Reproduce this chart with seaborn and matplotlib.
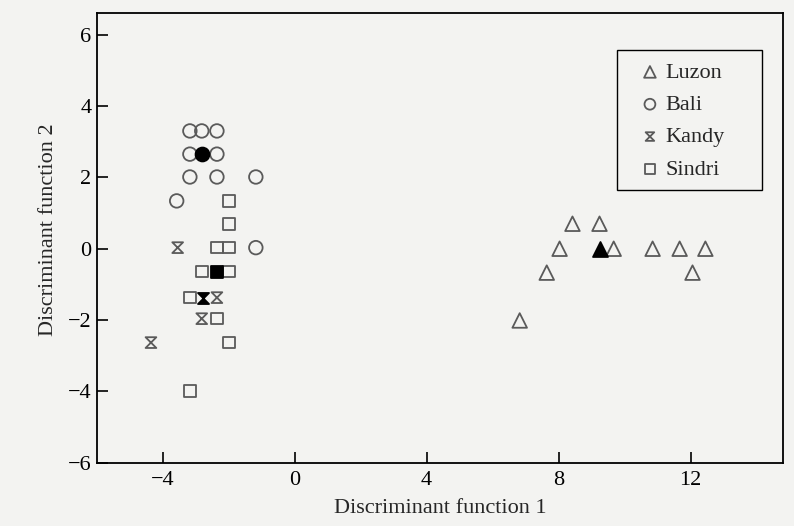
import numpy as np
import pandas as pd
import matplotlib
matplotlib.use("Agg")
import matplotlib.pyplot as plt
from matplotlib.path import Path
from matplotlib.patches import Rectangle
import seaborn as sns

# ---- data ----
groups = ["Luzon", "Bali", "Kandy", "Sindri"]

luzon_x = [6.82, 7.64, 8.03, 8.42, 9.24, 9.67, 10.85, 11.67, 12.06, 12.45]
luzon_y = [-2.01, -0.67, 0.0, 0.70, 0.70, 0.0, 0.0, 0.0, -0.67, 0.0]

bali_x = [-3.18, -2.82, -2.36, -3.18, -2.36, -3.18, -2.36, -1.18, -3.58, -1.18]
bali_y = [3.30, 3.30, 3.30, 2.65, 2.65, 2.01, 2.01, 2.01, 1.34, 0.03]

kandy_x = [-3.55, -2.36, -2.82, -4.36]
kandy_y = [0.03, -1.37, -1.96, -2.63]

sindri_x = [-2.0, -2.0, -2.36, -2.0, -2.82, -2.0, -3.18, -2.36, -2.0, -3.18]
sindri_y = [1.34, 0.70, 0.03, 0.03, -0.64, -0.64, -1.37, -1.96, -2.63, -3.99]

centroid_x = [9.24, -2.82, -2.79, -2.36]
centroid_y = [0.0, 2.65, -1.37, -0.64]

x_ticks = [-4, 0, 4, 8, 12]
y_ticks = [-6, -4, -2, 0, 2, 4, 6]

# ---- styling ----
hourglass = Path([(-1, 1), (1, 1), (-1, -1), (1, -1), (-1, 1)],
                 [Path.MOVETO, Path.LINETO, Path.LINETO, Path.LINETO, Path.CLOSEPOLY])
markers = {"Luzon": "^", "Bali": "o", "Kandy": hourglass, "Sindri": "s"}
sizes = {"Luzon": 110, "Bali": 95, "Kandy": 60, "Sindri": 70}

sns.set_theme(style="white")
plt.rcParams["font.family"] = ["Liberation Serif", "DejaVu Serif"]

bg = "#f3f3f1"
edge = "#5a5a5a"

fig = plt.figure(figsize=(7.94, 5.26), dpi=100, facecolor=bg)
ax = fig.add_axes([0.122, 0.120, 0.864, 0.855])
ax.set_facecolor(bg)

data = {
    "Luzon": (luzon_x, luzon_y),
    "Bali": (bali_x, bali_y),
    "Kandy": (kandy_x, kandy_y),
    "Sindri": (sindri_x, sindri_y),
}
for g in groups:
    xs, ys = data[g]
    df = pd.DataFrame({"x": xs, "y": ys})
    sns.scatterplot(data=df, x="x", y="y", marker=markers[g], s=sizes[g],
                    color=edge, facecolor="none", edgecolor=edge,
                    linewidth=1.3, ax=ax, label=g, zorder=3)

for g, cx, cy in zip(groups, centroid_x, centroid_y):
    dfc = pd.DataFrame({"x": [cx], "y": [cy]})
    sns.scatterplot(data=dfc, x="x", y="y", marker=markers[g], s=sizes[g] * 1.05,
                    color="black", facecolor="black", edgecolor="black",
                    linewidth=1.3, ax=ax, legend=False, zorder=4)

ax.set_xlim(-6, 14.8)
ax.set_ylim(-6, 6.6)
ax.set_xticks(x_ticks)
ax.set_yticks(y_ticks)
ax.set_xticklabels([str(t).replace("-", "\u2212") for t in x_ticks])
ax.set_yticklabels([str(t).replace("-", "\u2212") for t in y_ticks])
ax.tick_params(direction="in", length=8, width=1.2, labelsize=16,
               bottom=True, left=True, colors="black", pad=4)
ax.tick_params(axis="x", pad=6)
for sp in ax.spines.values():
    sp.set_color("black")
    sp.set_linewidth(1.3)

ax.set_xlabel("Discriminant function 1", fontsize=16, labelpad=6)
ax.set_ylabel("Discriminant function 2", fontsize=16)
ax.yaxis.set_label_coords(-0.056, 0.518)

# legend frame drawn separately (wide right margin as in the original)
ax.add_patch(Rectangle((0.758, 0.607), 0.211, 0.311, transform=ax.transAxes,
                       facecolor=bg, edgecolor="black", linewidth=1.0, zorder=5))
leg = ax.legend(loc="upper left", bbox_to_anchor=(0.790, 0.891), fontsize=16,
                frameon=False, borderpad=0, labelspacing=0.53,
                handletextpad=0.2, markerscale=0.8, handlelength=1.0,
                borderaxespad=0)
leg.set_zorder(6)

fig.savefig("out.png", dpi=100, facecolor=bg)
